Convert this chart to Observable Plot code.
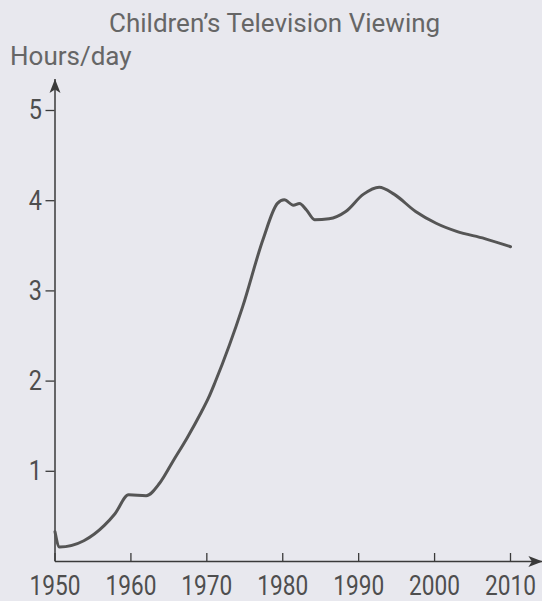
<!DOCTYPE html>
<html>
<head>
<meta charset="utf-8">
<script src="https://cdn.jsdelivr.net/npm/d3@7"></script>
<script src="https://cdn.jsdelivr.net/npm/@observablehq/plot@0.6"></script>
<style>
  html, body { margin: 0; padding: 0; background: #e8e8ee; }
  #wrap { position: relative; width: 542px; height: 601px; overflow: hidden; }
  .lbl { position: absolute; font-family: Roboto, "Noto Sans", sans-serif; font-size: 26px; line-height: 26px; color: #666; white-space: nowrap; }
  #chart { position: absolute; left: 0; top: 0; }
</style>
</head>
<body>
<div id="wrap">
  <div id="chart"></div>
  <div class="lbl" id="title" style="left:109px; top:10px;">Children’s Television Viewing</div>
  <div class="lbl" id="ylab" style="left:10px; top:43px;">Hours/day</div>
</div>
<script>
// Data
const years = [1950, 1950.6, 1953.8, 1956.5, 1957.9, 1959.7, 1962.0, 1963.8, 1965.6, 1967.4, 1969.3, 1970.2, 1971.1, 1974.7, 1977.4, 1979.3, 1980.2, 1981.4, 1982.2, 1983.1, 1984.2, 1986.1, 1988.3, 1990.6, 1992.7, 1994.7, 1997.5, 2000.2, 2002.9, 2006.6, 2010];
const hours = [0.33, 0.16, 0.23, 0.40, 0.53, 0.74, 0.73, 0.87, 1.12, 1.37, 1.66, 1.81, 1.99, 2.82, 3.57, 3.97, 4.01, 3.95, 3.97, 3.90, 3.79, 3.80, 3.88, 4.07, 4.15, 4.07, 3.88, 3.75, 3.66, 3.58, 3.49];
const xTicks = [1950, 1960, 1970, 1980, 1990, 2000, 2010];
const yTicks = [1, 2, 3, 4, 5];
const xAxisEnd = 2014.2;   // where the x-axis arrow ends
const yAxisEnd = 5.35;     // where the y-axis arrow ends

const series = years.map((y, i) => ({year: y, hours: hours[i]}));

const ink = "#3a3a3a";
const tickFont = "Roboto, 'Noto Sans', sans-serif";
const arrowHead = {
  draw(ctx) {
    ctx.moveTo(0, 0);
    ctx.lineTo(5.5, 14);
    ctx.lineTo(0, 10.5);
    ctx.lineTo(-5.5, 14);
    ctx.closePath();
  }
};

const chart = Plot.plot({
  width: 542,
  height: 601,
  marginLeft: 54.5,
  marginRight: 32,
  marginTop: 110,
  marginBottom: 40,
  style: {background: "transparent", color: "#555"},
  x: {domain: [1950, 2010]},
  y: {domain: [0, 5]},
  marks: [
    Plot.axisY({
      ticks: yTicks, tickSize: 9, tickPadding: 4, label: null, tickFormat: d => String(d),
      fontSize: 28, fontFamily: tickFont,
      stroke: ink, strokeWidth: 1.3, fill: "#4e4e4e"
    }),
    Plot.axisX({
      ticks: xTicks, tickSize: -8, tickPadding: 22, label: null, tickFormat: d => String(d),
      fontSize: 27, fontFamily: tickFont,
      stroke: ink, strokeWidth: 1.3, fill: "#4e4e4e"
    }),
    Plot.link([{x1: 1950, y1: 0, x2: xAxisEnd, y2: 0}], {x1: "x1", y1: "y1", x2: "x2", y2: "y2", stroke: ink, strokeWidth: 1.5}),
    Plot.link([{x1: 1950, y1: 0, x2: 1950, y2: yAxisEnd}], {x1: "x1", y1: "y1", x2: "x2", y2: "y2", stroke: ink, strokeWidth: 1.5}),
    Plot.dot([{x: xAxisEnd, y: 0}], {x: "x", y: "y", symbol: arrowHead, fill: ink, stroke: "none", rotate: 90}),
    Plot.dot([{x: 1950, y: yAxisEnd}], {x: "x", y: "y", symbol: arrowHead, fill: ink, stroke: "none", rotate: 0}),
    Plot.line(series, {x: "year", y: "hours", curve: "monotone-x", stroke: "#555", strokeWidth: 3, strokeLinejoin: "round", strokeLinecap: "round"})
  ]
});

// Narrow the tick-label glyphs (the reference uses a condensed DIN-like face)
chart.querySelectorAll('g[aria-label$="tick label"] text').forEach(t => {
  const tr = t.getAttribute("transform");
  if (tr) t.setAttribute("transform", tr + " scale(0.84,1)");
});

document.getElementById("chart").appendChild(chart);
</script>
</body>
</html>
